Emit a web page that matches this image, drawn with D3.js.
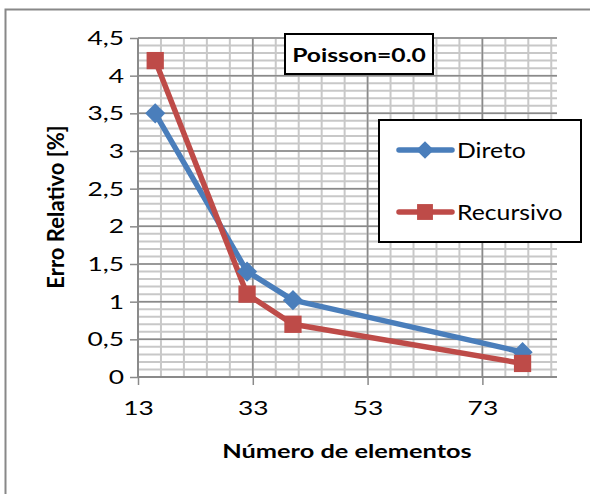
<!DOCTYPE html>
<html>
<head>
<meta charset="utf-8">
<script src="https://cdn.jsdelivr.net/npm/d3@7"></script>
<style>
  body { margin: 0; background: #fff; }
  svg text { font-family: Lato, "Open Sans", sans-serif; fill: #000; }
</style>
</head>
<body>
<svg id="chart" width="590" height="494"></svg>
<script>
// data
const nElementos = [16, 32, 40, 80];
const direto = [3.5, 1.4, 1.02, 0.33];
const recursivo = [4.2, 1.1, 0.7, 0.18];
const xTicks = [13, 33, 53, 73];
const yTicks = [0, 0.5, 1, 1.5, 2, 2.5, 3, 3.5, 4, 4.5];
const seriesNames = ['Direto', 'Recursivo'];

const svg = d3.select('#chart');

// the reference text looks stretched sideways, so widen glyphs a bit
function wideText(parent, x, y, str, size, sx, opts = {}) {
    return parent.append('text')
        .attr('transform', `translate(${x},${y}) scale(${sx},1)`)
        .attr('text-anchor', opts.anchor || 'start')
        .style('font-size', size + 'px')
        .style('font-weight', opts.bold ? 'bold' : 'normal')
        .text(str);
}

// chart area border
svg.append('rect')
    .attr('x', 5.5).attr('y', 9.5)
    .attr('width', 600).attr('height', 500)
    .attr('fill', '#fff')
    .attr('stroke', '#888').attr('stroke-width', 2);

const margin = { top: 38, right: 33, bottom: 117, left: 138 };
const w = 590 - margin.left - margin.right;
const h = 494 - margin.top - margin.bottom;

const x = d3.scaleLinear().domain([13, 86]).range([0, w]);
const y = d3.scaleLinear().domain([0, 4.5]).range([h, 0]);

const g = svg.append('g').attr('transform', `translate(${margin.left},${margin.top})`);

// minor gridlines
const minorX = d3.range(13, 86.01, 4);
const minorY = d3.range(0, 4.501, 0.1);
g.append('g').selectAll('line').data(minorY).join('line')
    .attr('x1', 0).attr('x2', w)
    .attr('y1', d => y(d)).attr('y2', d => y(d))
    .attr('stroke', '#c8c8c8').attr('stroke-width', 2);
g.append('g').selectAll('line').data(minorX).join('line')
    .attr('x1', d => x(d)).attr('x2', d => x(d))
    .attr('y1', 0).attr('y2', h)
    .attr('stroke', '#c8c8c8').attr('stroke-width', 2);

// major gridlines
g.append('g').selectAll('line').data(yTicks).join('line')
    .attr('x1', 0).attr('x2', w)
    .attr('y1', d => y(d)).attr('y2', d => y(d))
    .attr('stroke', '#8a8a8a').attr('stroke-width', 1.5);
g.append('g').selectAll('line').data(xTicks).join('line')
    .attr('x1', d => x(d)).attr('x2', d => x(d))
    .attr('y1', 0).attr('y2', h)
    .attr('stroke', '#8a8a8a').attr('stroke-width', 1.5);

// axes
const tickScale = 1.32;
const fmt = d => String(d).replace('.', ',');
const yAxis = g.append('g')
    .call(d3.axisLeft(y).tickValues(yTicks).tickFormat(fmt).tickSize(8).tickPadding(6));
const xAxis = g.append('g')
    .attr('transform', `translate(0,${h})`)
    .call(d3.axisBottom(x).tickValues(xTicks).tickSize(8).tickPadding(16));
[yAxis, xAxis].forEach(a => {
    a.select('.domain').attr('stroke', '#8a8a8a').attr('stroke-width', 2);
    a.selectAll('.tick line').attr('stroke', '#8a8a8a').attr('stroke-width', 1.5);
    a.selectAll('.tick text')
        .style('font-size', '20px')
        .attr('transform', `scale(${tickScale},1)`);
});
yAxis.selectAll('.tick text').attr('x', -14 / tickScale);
xAxis.select('.domain').attr('d', `M0,0H${w}`);
yAxis.select('.domain').attr('d', `M0,0V${h}`);

// series
const colors = ['#4a7ebb', '#be4b48'];
const allSeries = [direto, recursivo];
const line = d3.line().x((d, i) => x(nElementos[i])).y(d => y(d));

const diamond = d3.symbol().type(d3.symbolDiamond2).size(260);
const square = d3.symbol().type(d3.symbolSquare2).size(380);
const symbols = [diamond, square];

allSeries.forEach((vals, s) => {
    g.append('path')
        .datum(vals)
        .attr('d', line)
        .attr('fill', 'none')
        .attr('stroke', colors[s])
        .attr('stroke-width', 5.5)
        .attr('stroke-linejoin', 'round');
});
allSeries.forEach((vals, s) => {
    g.append('g').selectAll('path').data(vals).join('path')
        .attr('transform', (d, i) => `translate(${x(nElementos[i])},${y(d)})`)
        .attr('d', symbols[s]())
        .attr('fill', colors[s]);
});

// axis titles
wideText(svg, 347, 458, 'Número de elementos', 19.5, 1.3, { anchor: 'middle', bold: true });
svg.append('text')
    .attr('transform', 'translate(64,207) rotate(-90)')
    .attr('text-anchor', 'middle')
    .style('font-size', '22px').style('font-weight', 'bold')
    .text('Erro Relativo [%]');

// Poisson label box
svg.append('rect')
    .attr('x', 285).attr('y', 34).attr('width', 148).attr('height', 40)
    .attr('fill', '#fff').attr('stroke', '#000').attr('stroke-width', 2);
wideText(svg, 359, 61.5, 'Poisson=0.0', 19, 1.3, { anchor: 'middle', bold: true });

// legend
const legend = svg.append('g');
legend.append('rect')
    .attr('x', 379).attr('y', 120).attr('width', 202).attr('height', 122)
    .attr('fill', '#fff').attr('stroke', '#000').attr('stroke-width', 2);
const legY = [150, 212];
const legSymbols = [
    d3.symbol().type(d3.symbolDiamond2).size(200),
    d3.symbol().type(d3.symbolSquare2).size(320)
];
seriesNames.forEach((name, s) => {
    legend.append('line')
        .attr('x1', 399).attr('x2', 452)
        .attr('y1', legY[s]).attr('y2', legY[s])
        .attr('stroke', colors[s]).attr('stroke-width', 5.5)
        .attr('stroke-linecap', 'round');
    legend.append('path')
        .attr('transform', `translate(425,${legY[s]})`)
        .attr('d', legSymbols[s]())
        .attr('fill', colors[s]);
    wideText(legend, 457, legY[s] + 8, name, 21, 1.18);
});
</script>
</body>
</html>
